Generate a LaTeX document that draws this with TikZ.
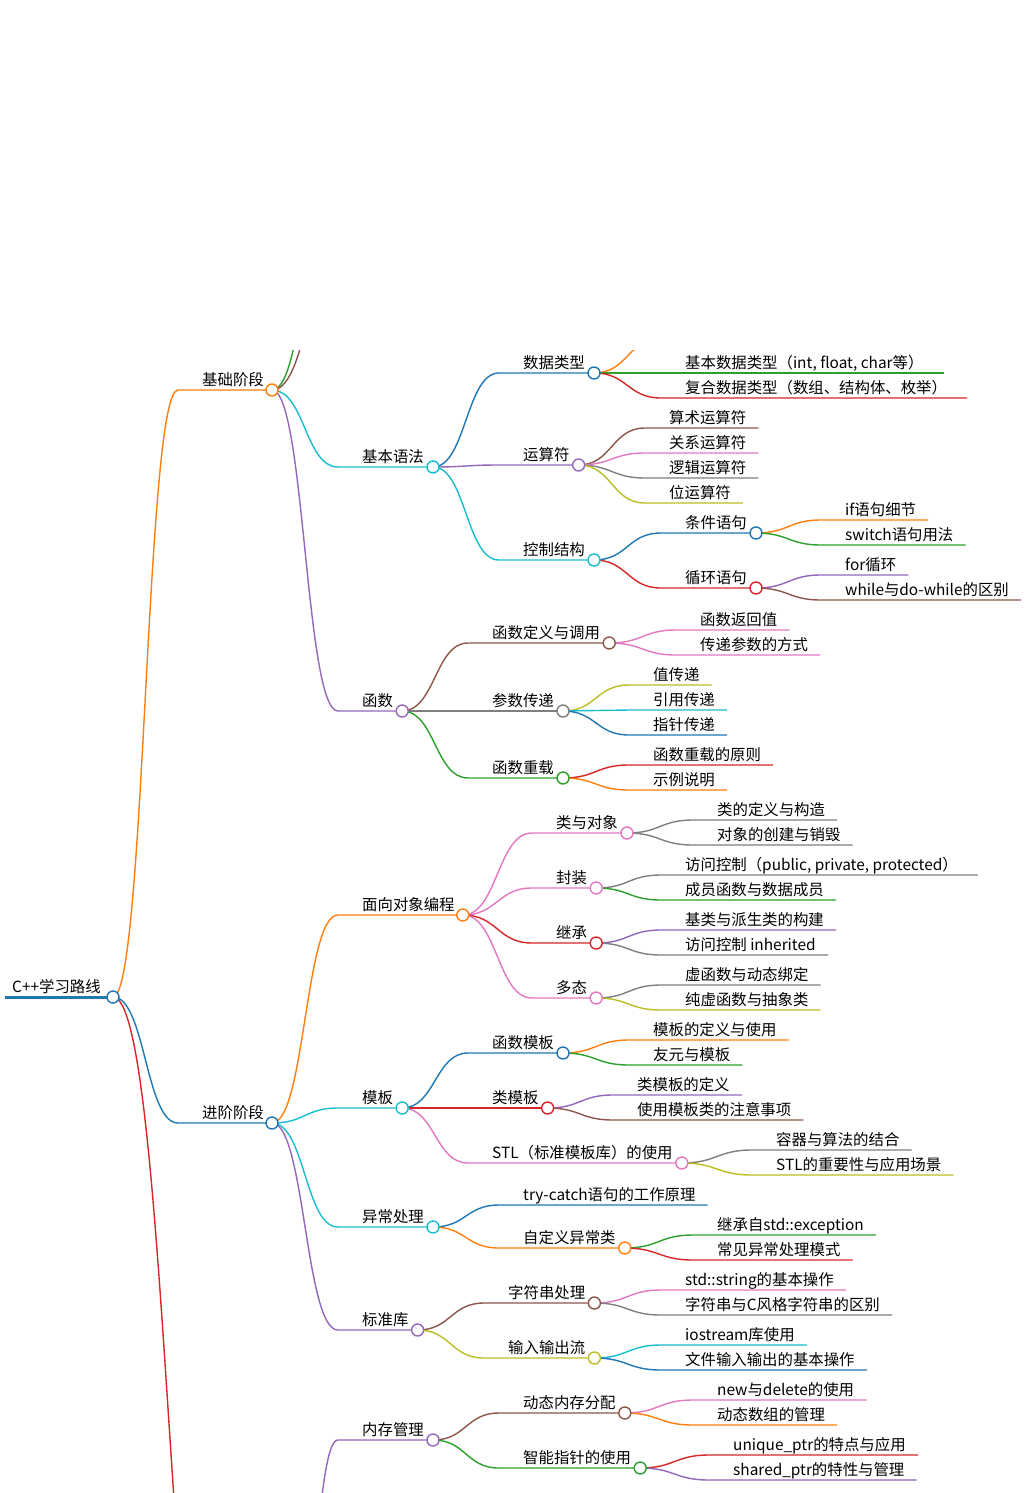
\documentclass[tikz,border=0pt]{standalone}
\usepackage{fontspec}
\setmainfont{Noto Sans CJK SC}
\usetikzlibrary{calc}
\pgfdeclarelayer{fg}
\pgfsetlayers{main,fg}
\definecolor{cblue}{HTML}{1F77B4}
\definecolor{corange}{HTML}{FF7F0E}
\definecolor{cgreen}{HTML}{2CA02C}
\definecolor{cred}{HTML}{D62728}
\definecolor{cpurple}{HTML}{9467BD}
\definecolor{cbrown}{HTML}{8C564B}
\definecolor{cpink}{HTML}{E377C2}
\definecolor{cgray}{HTML}{7F7F7F}
\definecolor{colive}{HTML}{BCBD22}
\definecolor{ccyan}{HTML}{17BECF}
\tikzset{
  lbl/.style={inner sep=0pt, font=\fontsize{15.4}{17}\selectfont},
  edge/.style={line width=1.4pt},
  dot/.style={circle, fill=white, line width=1.4pt, minimum size=12pt, inner sep=0pt}
}
% #1 name, #2 parent, #3 colour, #4 x, #5 y, #6 text, #7 pad right
\newcommand\mmnode[7]{%
  \node[lbl,anchor=base west] (#1) at (#4,-#5+5) {#6};
  \coordinate (#1-s) at (#4-24,-#5);
  \path (#1.east) ++(#7,0) coordinate (tmp);
  \coordinate (#1-e) at (tmp |- #1-s);
  \draw[edge,#3] let \p1=(#2-e), \p2=(#1-s) in
    (\p1) .. controls ({(\x1+\x2)/2},\y1) and ({(\x1+\x2)/2},\y2) .. (\p2) -- (#1-e);
}
\newcommand\mmcirc[2]{%
  \begin{pgfonlayer}{fg}\node[dot,draw=#2] at (#1-e) {};\end{pgfonlayer}}
% hidden branch: #1 name, #2 parent, #3 colour, #4 x, #5 y
\newcommand\mmhidden[5]{%
  \coordinate (#1-s) at (#4,-#5);
  \draw[edge,#3] let \p1=(#2-e), \p2=(#1-s) in
    (\p1) .. controls ({(\x1+\x2)/2},\y1) and ({(\x1+\x2)/2},\y2) .. (\p2) -- ++(200,0);
}
\begin{document}
\begin{tikzpicture}[x=1pt,y=1pt]
  \useasboundingbox (0,0) rectangle (1027,-1493);
  \fill[white] (0,0) rectangle (1027,-1493);
  \clip (0,-350) rectangle (1027,-1493);
  % root
  \node[lbl,anchor=base west] (root) at (12,-992) {C++学习路线};
  \coordinate (root-e) at (113,-997);
  \draw[cblue,line width=3pt] (5,-997) -- (root-e);
  \mmcirc{root}{cblue}
  \coordinate (low-e) at (300,-1600);
  \mmhidden{rd}{root}{cred}{225}{1850}
  % basics
  \mmnode{jc}{root}{corange}{202}{390}{基础阶段}{8}\mmcirc{jc}{corange}
  \mmhidden{jh1}{jc}{cgreen}{340}{160}
  \mmhidden{jh2}{jc}{cbrown}{350}{220}
  \mmnode{yf}{jc}{ccyan}{362}{467}{基本语法}{9}\mmcirc{yf}{ccyan}
  \mmnode{sj}{yf}{cblue}{523}{373}{数据类型}{9}\mmcirc{sj}{cblue}
  \mmhidden{sjh}{sj}{corange}{662}{338}
  \mmnode{sj1}{sj}{cgreen}{685}{373}{基本数据类型（int, float, char等）}{20}
  \mmnode{sj2}{sj}{cred}{685}{398}{复合数据类型（数组、结构体、枚举）}{20}
  \mmnode{ys}{yf}{cpurple}{523}{465}{运算符}{9}\mmcirc{ys}{cpurple}
  \mmnode{ys1}{ys}{cbrown}{669}{428}{算术运算符}{12}
  \mmnode{ys2}{ys}{cpink}{669}{453}{关系运算符}{12}
  \mmnode{ys3}{ys}{cgray}{669}{478}{逻辑运算符}{12}
  \mmnode{ys4}{ys}{colive}{669}{503}{位运算符}{12}
  \mmnode{kz}{yf}{ccyan}{523}{560}{控制结构}{9}\mmcirc{kz}{ccyan}
  \mmnode{tj}{kz}{cblue}{685}{533}{条件语句}{9}\mmcirc{tj}{cblue}
  \mmnode{tj1}{tj}{corange}{845}{520}{if语句细节}{12}
  \mmnode{tj2}{tj}{cgreen}{845}{545}{switch语句用法}{12}
  \mmnode{xh}{kz}{cred}{685}{588}{循环语句}{9}\mmcirc{xh}{cred}
  \mmnode{xh1}{xh}{cpurple}{845}{575}{for循环}{12}
  \mmnode{xh2}{xh}{cbrown}{845}{600}{while与do-while的区别}{12}
  \mmnode{hs}{jc}{cpurple}{362}{711}{函数}{9}\mmcirc{hs}{cpurple}
  \mmnode{dy}{hs}{cbrown}{492}{643}{函数定义与调用}{9}\mmcirc{dy}{cbrown}
  \mmnode{dy1}{dy}{cpink}{700}{630}{函数返回值}{12}
  \mmnode{dy2}{dy}{cpink}{700}{655}{传递参数的方式}{12}
  \mmnode{cd}{hs}{cgray}{492}{711}{参数传递}{9}\mmcirc{cd}{cgray}
  \mmnode{cd1}{cd}{colive}{653}{685}{值传递}{12}
  \mmnode{cd2}{cd}{ccyan}{653}{710}{引用传递}{12}
  \mmnode{cd3}{cd}{cblue}{653}{735}{指针传递}{12}
  \mmnode{cz}{hs}{cgreen}{492}{778}{函数重载}{9}\mmcirc{cz}{cgreen}
  \mmnode{cz1}{cz}{cred}{653}{765}{函数重载的原则}{12}
  \mmnode{cz2}{cz}{corange}{653}{790}{示例说明}{12}
  % advanced
  \mmnode{jj}{root}{cblue}{202}{1123}{进阶阶段}{8}\mmcirc{jj}{cblue}
  \mmnode{mx}{jj}{corange}{362}{915}{面向对象编程}{8}\mmcirc{mx}{corange}
  \mmnode{ld}{mx}{cpink}{556}{833}{类与对象}{9}\mmcirc{ld}{cpink}
  \mmnode{ld1}{ld}{cgray}{717}{820}{类的定义与构造}{12}
  \mmnode{ld2}{ld}{cgray}{717}{845}{对象的创建与销毁}{12}
  \mmnode{fz}{mx}{cpink}{556}{888}{封装}{9}\mmcirc{fz}{cpink}
  \mmnode{fz1}{fz}{cgray}{685}{875}{访问控制（public, private, protected）}{20}
  \mmnode{fz2}{fz}{cgreen}{685}{900}{成员函数与数据成员}{12}
  \mmnode{jx}{mx}{cred}{556}{943}{继承}{9}\mmcirc{jx}{cred}
  \mmnode{jx1}{jx}{cpurple}{685}{930}{基类与派生类的构建}{12}
  \mmnode{jx2}{jx}{cgray}{685}{955}{访问控制 inherited}{12}
  \mmnode{dt}{mx}{cpink}{556}{998}{多态}{9}\mmcirc{dt}{cpink}
  \mmnode{dt1}{dt}{cgray}{685}{985}{虚函数与动态绑定}{12}
  \mmnode{dt2}{dt}{colive}{685}{1010}{纯虚函数与抽象类}{12}
  \mmnode{mb}{jj}{ccyan}{362}{1108}{模板}{9}\mmcirc{mb}{ccyan}
  \mmnode{hm}{mb}{cblue}{492}{1053}{函数模板}{9}\mmcirc{hm}{cblue}
  \mmnode{hm1}{hm}{corange}{653}{1040}{模板的定义与使用}{12}
  \mmnode{hm2}{hm}{cgreen}{653}{1065}{友元与模板}{12}
  \mmnode{lm}{mb}{cred}{492}{1108}{类模板}{9}\mmcirc{lm}{cred}
  \mmnode{lm1}{lm}{cpurple}{637}{1095}{类模板的定义}{12}
  \mmnode{lm2}{lm}{cbrown}{637}{1120}{使用模板类的注意事项}{12}
  \mmnode{stl}{mb}{cpink}{492}{1163}{STL（标准模板库）的使用}{9}\mmcirc{stl}{cpink}
  \mmnode{stl1}{stl}{cgray}{776}{1150}{容器与算法的结合}{12}
  \mmnode{stl2}{stl}{colive}{776}{1175}{STL的重要性与应用场景}{12}
  \mmnode{yc}{jj}{ccyan}{362}{1227}{异常处理}{9}\mmcirc{yc}{ccyan}
  \mmnode{yc1}{yc}{cblue}{523}{1205}{try-catch语句的工作原理}{12}
  \mmnode{zd}{yc}{corange}{523}{1248}{自定义异常类}{9}\mmcirc{zd}{corange}
  \mmnode{zd1}{zd}{cgreen}{717}{1235}{继承自std::exception}{12}
  \mmnode{zd2}{zd}{cred}{717}{1260}{常见异常处理模式}{12}
  \mmnode{bz}{jj}{cpurple}{362}{1330}{标准库}{9}\mmcirc{bz}{cpurple}
  \mmnode{zf}{bz}{cbrown}{508}{1303}{字符串处理}{9}\mmcirc{zf}{cbrown}
  \mmnode{zf1}{zf}{cpink}{685}{1290}{std::string的基本操作}{12}
  \mmnode{zf2}{zf}{cgray}{685}{1315}{字符串与C风格字符串的区别}{12}
  \mmnode{sr}{bz}{colive}{508}{1358}{输入输出流}{9}\mmcirc{sr}{colive}
  \mmnode{sr1}{sr}{ccyan}{685}{1345}{iostream库使用}{12}
  \mmnode{sr2}{sr}{cblue}{685}{1370}{文件输入输出的基本操作}{12}
  \mmnode{nc}{low}{cpurple}{362}{1440}{内存管理}{9}\mmcirc{nc}{cpurple}
  \mmnode{dn}{nc}{cbrown}{523}{1413}{动态内存分配}{9}\mmcirc{dn}{cbrown}
  \mmnode{dn1}{dn}{cpink}{717}{1400}{new与delete的使用}{12}
  \mmnode{dn2}{dn}{corange}{717}{1425}{动态数组的管理}{12}
  \mmnode{zn}{nc}{cgreen}{523}{1468}{智能指针的使用}{9}\mmcirc{zn}{cgreen}
  \mmnode{zn1}{zn}{cred}{733}{1455}{unique\_ptr的特点与应用}{12}
  \mmnode{zn2}{zn}{cpurple}{733}{1480}{shared\_ptr的特性与管理}{12}
\end{tikzpicture}
\end{document}
